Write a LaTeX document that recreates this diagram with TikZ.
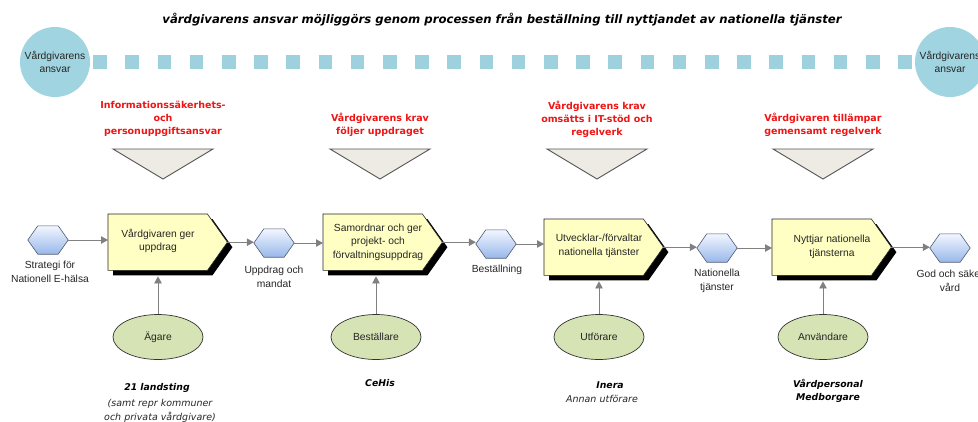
\documentclass[tikz,border=0pt]{standalone}
\usepackage{fontspec}
\setmainfont{Liberation Sans}
\newfontfamily\dvs{DejaVu Sans}
\usetikzlibrary{arrows.meta,shapes.geometric,shadows,calc}
\definecolor{circblue}{HTML}{A0D4E0}
\definecolor{sqblue}{HTML}{9CD1DD}
\definecolor{trifill}{HTML}{EDEBE4}
\definecolor{triline}{HTML}{555555}
\definecolor{boxfill}{HTML}{FFFFC4}
\definecolor{hextop}{HTML}{F2F6FF}
\definecolor{hexbot}{HTML}{98B8EA}
\definecolor{hexline}{HTML}{505A70}
\definecolor{ellfill}{HTML}{D6E3B5}
\definecolor{arrgray}{HTML}{808080}
\definecolor{redlab}{HTML}{F01414}
\definecolor{txt}{HTML}{262626}

\newcommand\procbox[6]{%
  \node[procrect, anchor=north west] (#1) at (#2,#3) {};
  \coordinate (#1-tip) at ($(#1.east)+(20,0)$);
  \draw[procshape] (#1.north west) -- (#1.north east) -- (#1-tip) -- (#1.south east) -- (#1.south west) -- cycle;
  \node[proctext] (#1-t) at (#5,#6) {#4};
}
\newcommand\hexnd[3]{%
  \node[hexrect] (#1) at (#2,#3) {};
  \draw[hexshape] (#1.west) -- ($(#1.north west)+(10,0)$) -- ($(#1.north east)+(-10,0)$) -- (#1.east) -- ($(#1.south east)+(-10,0)$) -- ($(#1.south west)+(10,0)$) -- cycle;
}

\begin{document}
\begin{tikzpicture}[x=1pt,y=-1pt,
  regtext/.style={font=\fontsize{10.3}{13.5}\selectfont, text=txt, align=center, inner sep=0pt},
  titletext/.style={font=\dvs\bfseries\itshape\fontsize{11.7}{14}\selectfont, text=black, inner sep=0pt},
  redtext/.style={font=\dvs\bfseries\fontsize{9.5}{13}\selectfont, text=redlab, align=center, inner sep=0pt},
  actbold/.style={font=\dvs\bfseries\itshape\fontsize{9.3}{13}\selectfont, text=black, align=center, inner sep=0pt},
  actital/.style={font=\dvs\itshape\fontsize{9.5}{13.5}\selectfont, text=txt, align=center, inner sep=0pt},
  circ/.style={circle, minimum size=70pt, inner sep=0pt, fill=circblue, regtext},
  sqline/.style={draw=sqblue, line width=13.5pt, dash pattern=on 13.5pt off 18.7pt, shorten <=3pt, shorten >=3pt},
  tri/.style={draw=triline, line width=0.9pt, fill=trifill, line join=miter},
  procrect/.style={rectangle, minimum width=99pt, minimum height=56pt, inner sep=0pt, draw=none},
  procshape/.style={draw=black!85, line width=0.6pt, fill=boxfill, drop shadow={shadow xshift=5pt, shadow yshift=-5pt, fill=black, opacity=1}},
  proctext/.style={regtext},
  hexrect/.style={rectangle, minimum width=40pt, minimum height=28pt, inner sep=0pt, draw=none},
  hexshape/.style={draw=hexline, line width=0.6pt, top color=hextop, bottom color=hexbot},
  hexlab/.style={regtext},
  ell/.style={ellipse, minimum width=90pt, minimum height=45pt, inner sep=0pt, fill=ellfill, draw=black!80, line width=0.7pt, regtext},
  arr/.style={draw=arrgray, line width=0.8pt, -{Triangle[length=7pt,width=7.5pt]}}
]
\useasboundingbox (0,0) rectangle (978,421);

% title
\node[titletext] (title) at (502,20) {vårdgivarens ansvar möjliggörs genom processen från beställning till nyttjandet av nationella tjänster};

% circles and square band
\node[circ] (c1) at (55,62) {Vårdgivarens\\ansvar};
\node[circ] (c2) at (950,62) {Vårdgivarens\\ansvar};
\draw[sqline] (c1) -- (c2);

% red labels
\node[redtext] (r1) at (163,119) {Informationssäkerhets-\\och\\personuppgiftsansvar};
\node[redtext] (r2) at (380,125) {Vårdgivarens krav\\följer uppdraget};
\node[redtext] (r3) at (597,119) {Vårdgivarens krav\\omsätts i IT-stöd och\\regelverk};
\node[redtext] (r4) at (823,125) {Vårdgivaren tillämpar\\gemensamt regelverk};

% triangles
\draw[tri] (113,149) -- (213,149) -- (163,179) -- cycle;
\draw[tri] (330,149) -- (430,149) -- (380,179) -- cycle;
\draw[tri] (547,149) -- (647,149) -- (597,179) -- cycle;
\draw[tri] (773,149) -- (873,149) -- (823,179) -- cycle;

% process boxes
\procbox{b1}{108}{214}{Vårdgivaren ger\\uppdrag}{158}{241}
\procbox{b2}{323}{214}{Samordnar och ger\\projekt- och\\förvaltningsuppdrag}{378}{242}
\procbox{b3}{544}{219}{Utvecklar-/förvaltar\\nationella tjänster}{599}{246}
\procbox{b4}{772}{219}{Nyttjar nationella\\tjänsterna}{832}{247}

% hexagons
\hexnd{h1}{48}{240}
\hexnd{h2}{274}{243}
\hexnd{h3}{496}{244}
\hexnd{h4}{717}{248}
\hexnd{h5}{950}{248}

\node[hexlab] (l1) at (50,272) {Strategi för\\Nationell E-hälsa};
\node[hexlab] (l2) at (274,277) {Uppdrag och\\mandat};
\node[hexlab] (l3) at (497,270) {Beställning};
\node[hexlab] (l4) at (717,281) {Nationella\\tjänster};
\node[hexlab] (l5) at (950,281) {God och säker\\vård};

% flow arrows
\draw[arr] (h1) -- (h1 -| b1.west);
\draw[arr] (b1-tip) -- (b1-tip -| h2.west);
\draw[arr] (h2) -- (h2 -| b2.west);
\draw[arr] (b2-tip) -- (b2-tip -| h3.west);
\draw[arr] (h3) -- (h3 -| b3.west);
\draw[arr] (b3-tip) -- (b3-tip -| h4.west);
\draw[arr] (h4) -- (h4 -| b4.west);
\draw[arr] (b4-tip) -- (b4-tip -| h5.west);

% actors
\node[ell] (e1) at (158,337) {Ägare};
\node[ell] (e2) at (376,337) {Beställare};
\node[ell] (e3) at (599,337) {Utförare};
\node[ell] (e4) at (823,337) {Användare};
\draw[arr, shorten >=6pt] (e1) -- (e1 |- b1.south);
\draw[arr, shorten >=6pt] (e2) -- (e2 |- b2.south);
\draw[arr, shorten >=6pt] (e3) -- (e3 |- b3.south);
\draw[arr, shorten >=6pt] (e4) -- (e4 |- b4.south);

% actor names
\node[actbold] (n1) at (157,388) {21 landsting};
\node[actital] (n1b) at (160,411) {(samt repr kommuner\\och privata vårdgivare)};
\node[actbold] (n2) at (380,383) {CeHis};
\node[actbold] (n3) at (610,385) {Inera};
\node[actital] (n3b) at (602,399) {Annan utförare};
\node[actbold] (n4) at (828,390.5) {Vårdpersonal\\Medborgare};
\end{tikzpicture}
\end{document}
